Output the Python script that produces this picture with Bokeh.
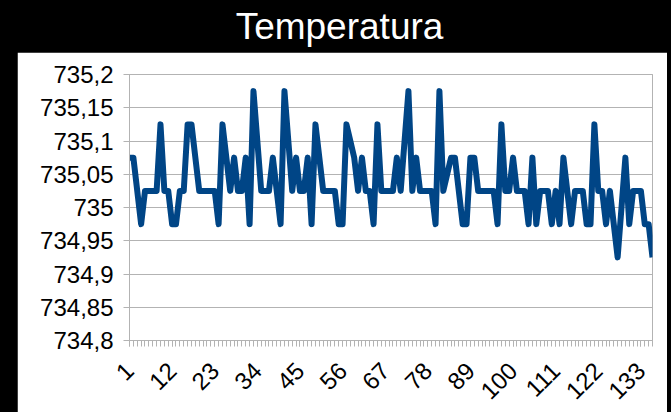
import math

from bokeh.embed import file_html
from bokeh.layouts import column, row
from bokeh.models import FixedTicker, Label, Range1d, Spacer
from bokeh.plotting import figure
from bokeh.resources import INLINE

# ---- data -------------------------------------------------------------
TITLE = "Temperatura"

samples = list(range(1, 137))

temperatura = [
    735.075, 735.075, 735.025, 734.975, 735.025, 735.025, 735.025, 735.025, 735.125, 735.025,
    735.025, 734.975, 734.975, 735.025, 735.025, 735.125, 735.125, 735.075, 735.025, 735.025,
    735.025, 735.025, 735.025, 734.975, 735.125, 735.075, 735.025, 735.075, 735.025, 735.025,
    735.075, 734.975, 735.175, 735.100, 735.025, 735.025, 735.025, 735.075, 735.025, 734.975,
    735.175, 735.100, 735.025, 735.075, 735.025, 735.025, 735.075, 734.975, 735.125, 735.075,
    735.025, 735.025, 735.025, 735.025, 734.975, 734.975, 735.125, 735.100, 735.075, 735.025,
    735.075, 735.025, 735.025, 734.975, 735.125, 735.025, 735.025, 735.025, 735.025, 735.075,
    735.025, 735.100, 735.175, 735.025, 735.075, 735.025, 735.025, 735.025, 735.025, 734.975,
    735.175, 735.025, 735.050, 735.075, 735.075, 735.025, 734.975, 734.975, 735.075, 735.075,
    735.025, 735.025, 735.025, 735.025, 735.025, 734.975, 735.125, 735.025, 735.025, 735.075,
    735.025, 735.025, 735.025, 734.975, 735.075, 734.975, 735.025, 735.025, 735.025, 734.975,
    735.025, 734.975, 735.075, 735.025, 734.975, 735.025, 735.025, 735.025, 734.975, 734.975,
    735.125, 735.025, 735.025, 734.975, 735.025, 734.975, 734.925, 735.000, 735.075, 734.975,
    735.025, 735.025, 735.025, 734.975, 734.975, 734.925,
]

y_ticks = [734.8, 734.85, 734.9, 734.95, 735.0, 735.05, 735.1, 735.15, 735.2]
y_tick_labels = ["734,8", "734,85", "734,9", "734,95", "735", "735,05", "735,1", "735,15", "735,2"]

x_tick_step = 11
x_ticks = samples[::x_tick_step]

# ---- style ------------------------------------------------------------
FONT = "Liberation Sans"
LINE_BLUE = "#004586"
GRID_GREY = "#b3b3b3"

# ---- title band -------------------------------------------------------
head = figure(
    width=671, height=52,
    x_range=Range1d(0, 671), y_range=Range1d(0, 52),
    x_axis_location=None, y_axis_location=None,
    toolbar_location=None, output_backend="svg",
    min_border=0, outline_line_color=None,
    background_fill_color="black", border_fill_color="black",
)
head.grid.visible = False
head.add_layout(Label(
    x=339, y=26, text=TITLE,
    text_color="white", text_font=FONT, text_font_size="37px",
    text_align="center", text_baseline="middle",
))

# ---- chart panel ------------------------------------------------------
p = figure(
    width=650, height=360,
    x_range=Range1d(samples[0], samples[-1]),
    y_range=Range1d(y_ticks[0], y_ticks[-1]),
    toolbar_location=None, output_backend="svg",
    min_border_left=112, min_border_right=15,
    min_border_top=22, min_border_bottom=72,
    background_fill_color="white", border_fill_color="white",
    outline_line_color=GRID_GREY,
)

p.line(samples, temperatura, line_color=LINE_BLUE, line_width=6,
       line_join="round", line_cap="butt")

p.xgrid.visible = False
p.ygrid.grid_line_color = GRID_GREY
p.ygrid.grid_line_width = 1

p.yaxis.ticker = FixedTicker(ticks=y_ticks)
p.yaxis.major_label_overrides = dict(zip(y_ticks, y_tick_labels))
p.yaxis.minor_tick_line_color = None
p.yaxis.major_tick_in = 0
p.yaxis.major_tick_out = 6
p.yaxis.major_label_standoff = 10

p.xaxis.ticker = FixedTicker(ticks=x_ticks, minor_ticks=samples)
p.xaxis.major_label_orientation = math.pi / 4
p.xaxis.major_tick_in = 0
p.xaxis.major_tick_out = 6
p.xaxis.minor_tick_in = 0
p.xaxis.minor_tick_out = 6
p.xaxis.major_label_standoff = 20

for ax in (p.xaxis, p.yaxis):
    ax.axis_line_color = GRID_GREY
    ax.major_tick_line_color = GRID_GREY
    ax.major_label_text_font = FONT
    ax.major_label_text_font_size = "24px"
    ax.major_label_text_color = "black"
p.xaxis.minor_tick_line_color = GRID_GREY

layout = column(
    head,
    row(Spacer(width=17, height=360), p, Spacer(width=4, height=360)),
    styles={"background-color": "black"},
)

open("out.html", "w").write(file_html(layout, INLINE))
